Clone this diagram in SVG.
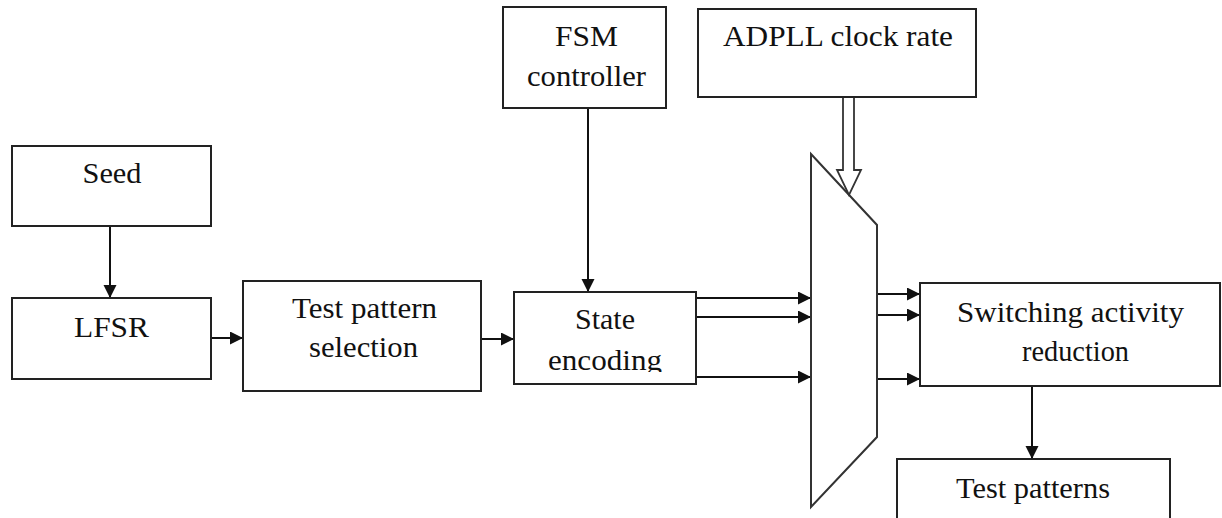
<svg xmlns="http://www.w3.org/2000/svg" width="1222" height="518" viewBox="0 0 1222 518">
  <style>
    .box { fill: #fff; stroke: #222; stroke-width: 2; }
    .lbl { font-size: 29px; fill: #111; text-anchor: middle; }
    .wire { stroke: #111; stroke-width: 2; fill: none; marker-end: url(#arrow); }
  </style>
  <defs>
    <marker id="arrow" markerUnits="userSpaceOnUse" markerWidth="14" markerHeight="14" refX="13" refY="6.5" orient="auto">
      <path d="M0,0 L13,6.5 L0,13 Z" fill="#111"/>
    </marker>
    <clipPath id="clipEnc">
      <rect x="514" y="292" width="182" height="80"/>
    </clipPath>
  </defs>

  <rect width="1222" height="518" fill="#fff"/>

  <!-- connectors -->
  <g id="connectors">
    <line class="wire" x1="110" y1="226" x2="110" y2="298"/>
    <line class="wire" x1="211" y1="338" x2="243" y2="338"/>
    <line class="wire" x1="482" y1="339" x2="514" y2="339"/>
    <line class="wire" x1="588" y1="108" x2="588" y2="292"/>
    <line class="wire" x1="696" y1="298" x2="811" y2="298"/>
    <line class="wire" x1="696" y1="317" x2="811" y2="317"/>
    <line class="wire" x1="696" y1="377" x2="811" y2="377"/>
    <line class="wire" x1="877" y1="294" x2="920" y2="294"/>
    <line class="wire" x1="877" y1="315" x2="920" y2="315"/>
    <line class="wire" x1="877" y1="379" x2="920" y2="379"/>
    <line class="wire" x1="1032" y1="386" x2="1032" y2="459"/>
  </g>

  <!-- multiplexer -->
  <g id="mux">
    <polygon points="811,154 877,225 877,437 811,507" fill="#fff" stroke="#333" stroke-width="2"/>
  </g>

  <!-- hollow clock-rate arrow into the multiplexer -->
  <g id="clock-arrow">
    <path d="M843,97 L843,170 L837,170 L849,195 L861,170 L854,170 L854,97" fill="#fff" stroke="#333" stroke-width="1.8"/>
  </g>

  <g font-family="'Liberation Serif', 'Times New Roman', Times, serif">
    <g id="seed">
      <rect class="box" x="12" y="146" width="199" height="80"/>
      <text class="lbl" x="112" y="183" textLength="59" lengthAdjust="spacingAndGlyphs">Seed</text>
    </g>

    <g id="lfsr">
      <rect class="box" x="12" y="298" width="199" height="81"/>
      <text class="lbl" x="111.5" y="337" textLength="75" lengthAdjust="spacingAndGlyphs">LFSR</text>
    </g>

    <g id="test-pattern-selection">
      <rect class="box" x="243" y="281" width="238" height="110"/>
      <text class="lbl" x="364.5" y="318" textLength="145" lengthAdjust="spacingAndGlyphs">Test pattern</text>
      <text class="lbl" x="363.5" y="357" textLength="109" lengthAdjust="spacingAndGlyphs">selection</text>
    </g>

    <g id="state-encoding">
      <rect class="box" x="514" y="292" width="182" height="92"/>
      <text class="lbl" x="605" y="329" textLength="60" lengthAdjust="spacingAndGlyphs">State</text>
      <text class="lbl" x="605" y="370" textLength="114" lengthAdjust="spacingAndGlyphs" clip-path="url(#clipEnc)">encoding</text>
    </g>

    <g id="fsm-controller">
      <rect class="box" x="503" y="7" width="163" height="101"/>
      <text class="lbl" x="586.5" y="46" textLength="63" lengthAdjust="spacingAndGlyphs">FSM</text>
      <text class="lbl" x="586.5" y="86" textLength="119" lengthAdjust="spacingAndGlyphs">controller</text>
    </g>

    <g id="adpll-clock-rate">
      <rect class="box" x="698" y="9" width="278" height="88"/>
      <text class="lbl" x="838" y="46" textLength="230" lengthAdjust="spacingAndGlyphs">ADPLL clock rate</text>
    </g>

    <g id="switching-activity-reduction">
      <rect class="box" x="920" y="283" width="300" height="103"/>
      <text class="lbl" x="1070.5" y="322" textLength="227" lengthAdjust="spacingAndGlyphs">Switching activity</text>
      <text class="lbl" x="1075.5" y="361" textLength="107" lengthAdjust="spacingAndGlyphs">reduction</text>
    </g>

    <g id="test-patterns">
      <rect class="box" x="897" y="459" width="273" height="80"/>
      <text class="lbl" x="1033" y="498" textLength="154" lengthAdjust="spacingAndGlyphs">Test patterns</text>
    </g>
  </g>
</svg>
